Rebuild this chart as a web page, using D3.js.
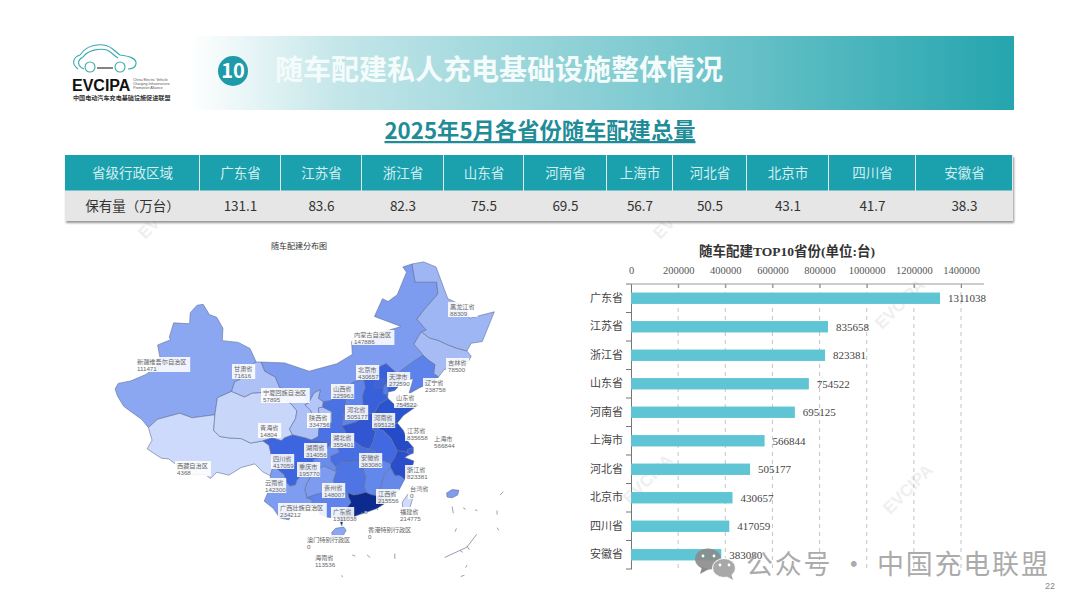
<!DOCTYPE html>
<html lang="zh">
<head>
<meta charset="UTF-8">
<title>随车配建私人充电基础设施整体情况</title>
<script src="https://d3js.org/d3.v7.min.js"></script>
<style>
  body { margin: 0; background: #fff; font-family: "Noto Sans CJK SC", "Noto Sans", sans-serif; }
  svg { display: block; }
  .serif { font-family: "Liberation Serif", "Noto Sans CJK SC", serif; }
</style>
</head>
<body>
<svg width="1080" height="608"></svg>
<script>
// table + bar chart data
const topProvinces = ["广东省", "江苏省", "浙江省", "山东省", "河南省", "上海市", "河北省", "北京市", "四川省", "安徽省"];
const topWan = ["131.1", "83.6", "82.3", "75.5", "69.5", "56.7", "50.5", "43.1", "41.7", "38.3"];
const topValues = [1311038, 835658, 823381, 754522, 695125, 566844, 505177, 430657, 417059, 383080];
const xTicks = [0, 200000, 400000, 600000, 800000, 1000000, 1200000, 1400000];

// map values
const mapNames = ["新疆维吾尔自治区", "西藏自治区", "青海省", "甘肃省", "内蒙古自治区", "宁夏回族自治区", "黑龙江省", "吉林省", "辽宁省", "河北省", "北京市", "天津市", "山西省", "陕西省", "山东省", "河南省", "江苏省", "上海市", "安徽省", "浙江省", "福建省", "江西省", "湖北省", "湖南省", "重庆市", "四川省", "贵州省", "云南省", "广西壮族自治区", "广东省", "海南省", "台湾省", "香港特别行政区", "澳门特别行政区"];
const mapValues = [111471, 4368, 14804, 71616, 147886, 57895, 88309, 78500, 238758, 505177, 430657, 272590, 225963, 334756, 754522, 695125, 835658, 566844, 383080, 823381, 214775, 215556, 355401, 314056, 195770, 417059, 148007, 142300, 234212, 1311038, 113536, 0, 0, 0];

// rough province outlines, lon/lat
const outlines = {
  "新疆维吾尔自治区": [[73.5,39.4],[74,40.1],[76,40.4],[78.5,41.2],[80.2,42.1],[80.3,43],[80.8,43.2],[80.4,44.7],[82.5,45.3],[82.3,45.6],[83,47.2],[85.6,47.1],[85.7,48.3],[86.8,49.1],[87.8,49.2],[88.8,48.1],[90,47.8],[91,46.6],[90.9,45.2],[93.5,45],[95.4,44.3],[96.4,42.7],[94.8,41.9],[93.8,40.6],[92.9,40.3],[92.4,39.1],[90.1,38.3],[89.7,36.1],[86,35.7],[84,36.3],[80.4,35.5],[78.9,34.4],[77.8,35.5],[75.9,36.6],[74.9,37.2],[73.9,38.5]],
  "西藏自治区": [[78.9,34.4],[79.5,32.7],[78.7,31.5],[81,30.2],[82.2,30.1],[84.2,28.8],[86,27.9],[88.1,27.9],[89,27.3],[90,28.2],[92,27.8],[94,28.9],[96.2,29.4],[97.4,28.3],[98.7,27.7],[99.2,29.2],[98.9,30.5],[98.5,32],[97.5,32.6],[95.5,32.3],[94,32.9],[92,33],[90.5,33.2],[89.5,34],[89.7,36.1],[86,35.7],[84,36.3],[80.4,35.5]],
  "青海省": [[89.7,36.1],[90.1,38.3],[92.4,39.1],[94.5,38.4],[95.8,38.9],[98,39],[99,38.5],[100.8,38.2],[102.1,37.5],[103,36.6],[102.8,35.6],[101.8,34.2],[102.3,33.4],[101,33],[100.5,32.6],[99,33],[97.5,32.6],[95.5,32.3],[94,32.9],[92,33],[90.5,33.2],[89.5,34]],
  "甘肃省": [[96.4,42.7],[97.2,42.7],[97.8,41.6],[99.5,40.9],[100.2,39.6],[102,39.2],[103.4,39.4],[104,38.9],[104.9,37.6],[104.3,37.4],[105.2,36.7],[105.6,36],[106.3,35.3],[106.6,35.8],[106.5,37],[107.2,37.1],[108.7,36.5],[108.7,35],[107.6,34.9],[106.6,34.4],[106.5,33.2],[105.4,32.7],[104.3,33],[102.3,33.4],[101.8,34.2],[102.8,35.6],[103,36.6],[102.1,37.5],[100.8,38.2],[99,38.5],[98,39],[95.8,38.9],[94.5,38.4],[92.4,39.1],[92.9,40.3],[93.8,40.6],[94.8,41.9]],
  "内蒙古自治区": [[97.2,42.7],[101,42.6],[105,41.6],[109.5,42.5],[112,43.6],[111.9,45.1],[114,44.9],[116.2,46],[119.9,46.8],[115.6,47.9],[116.9,49.8],[117.8,49.5],[119.3,50.2],[120.8,52.5],[120.2,53],[121.7,53.3],[122.2,51.5],[125.7,51.5],[125.9,50.3],[123.5,48.5],[122.5,47.6],[124,46.4],[123.2,46.2],[122,44.8],[123.1,43.9],[123.5,43.5],[122,42.8],[120.5,42],[119.3,41.3],[117.5,42.5],[116,42],[114.8,42.1],[113.8,40.6],[112,40.2],[111.2,39.4],[110.2,39.3],[108.5,37.9],[107.3,37.8],[106.5,38.2],[106.8,39.3],[105.8,38.9],[104.9,37.6],[104,38.9],[103.4,39.4],[102,39.2],[100.2,39.6],[99.5,40.9],[97.8,41.6]],
  "宁夏回族自治区": [[104.9,37.6],[105.8,38.9],[106.8,39.3],[106.5,38.2],[107.3,37.8],[107.2,37.1],[106.5,37],[106.6,35.8],[106.3,35.3],[105.6,36],[105.2,36.7],[104.3,37.4]],
  "黑龙江省": [[121.7,53.3],[123.6,53.5],[125.6,53],[127.5,49.8],[130.5,48.9],[131,47.7],[135.05,48.4],[133.1,45.1],[131.3,44.9],[130.6,44],[129,44.3],[127.5,44.7],[126,45.2],[124.5,45.5],[123.2,46.2],[124,46.4],[122.5,47.6],[123.5,48.5],[125.9,50.3],[125.7,51.5],[122.2,51.5]],
  "吉林省": [[123.2,46.2],[124.5,45.5],[126,45.2],[127.5,44.7],[129,44.3],[130.6,44],[131.3,43.4],[130.6,42.4],[129.8,42.9],[128,42],[126.9,41.8],[126,40.9],[125.2,41.3],[125.4,42.4],[124.4,42.9],[123.5,43.5],[123.1,43.9],[122,44.8]],
  "辽宁省": [[123.5,43.5],[124.4,42.9],[125.4,42.4],[125.2,41.3],[126,40.9],[124.4,40],[123,39.6],[121.2,38.8],[121.9,40.7],[120.9,40.5],[119.8,40],[119.3,41.3],[120.5,42],[122,42.8]],
  "河北省": [[119.3,41.3],[117.5,42.5],[116,42],[114.8,42.1],[113.8,40.6],[114.1,39.6],[113.6,38.5],[113.8,37],[114.1,36.3],[115.5,36.2],[116.4,37.5],[117.8,38.2],[117.6,39],[118.9,39.2],[119.8,40]],
  "北京市": [[115.5,39.6],[116,40.8],[117.3,40.6],[117,39.9],[116.5,39.5]],
  "天津市": [[117,39.6],[117.5,40.2],[117.8,39.5],[117.8,38.6],[117,38.8]],
  "山西省": [[113.8,40.6],[114.1,39.6],[113.6,38.5],[113.8,37],[114.1,36.3],[113.5,35.6],[112.5,35.1],[110.3,34.6],[110.6,36],[110.9,38],[111.2,39.4],[112,40.2]],
  "陕西省": [[111.2,39.4],[110.9,38],[110.6,36],[110.3,34.6],[111,33.8],[110.8,33.2],[110,33.2],[110,32.3],[109.6,31.7],[108.5,32.2],[107.3,32.5],[105.4,32.7],[106.5,33.2],[106.6,34.4],[107.6,34.9],[108.7,35],[108.7,36.5],[107.2,37.1],[107.3,37.8],[108.5,37.9],[110.2,39.3]],
  "山东省": [[115.5,36.2],[116.4,37.5],[117.8,38.2],[119,37.3],[120.8,37.8],[122.6,37.3],[120.3,36],[119.3,35],[118,34.6],[116.4,34.7],[116.1,34.6],[115.3,35.3]],
  "河南省": [[114.1,36.3],[115.5,36.2],[115.3,35.3],[116.1,34.6],[115.2,34.2],[115.8,33.9],[115.4,32.5],[114.8,31.5],[113.7,31.7],[112.5,32.4],[110.8,33.2],[111,33.8],[110.3,34.6],[112.5,35.1],[113.5,35.6]],
  "江苏省": [[116.1,34.6],[116.4,34.7],[118,34.6],[119.3,35],[120.3,34],[120.9,32.7],[121.9,31.7],[121,31.4],[120.9,31],[119.9,31.2],[119.3,31.2],[118.8,32],[118.3,32.9],[117,34],[116.4,34.1]],
  "上海市": [[120.9,31],[121,31.4],[121.9,31.7],[121.9,30.9],[121.3,30.7]],
  "安徽省": [[116.1,34.6],[116.4,34.1],[117,34],[118.3,32.9],[118.8,32],[119.3,31.2],[118.9,30.3],[118.2,29.4],[117,29.8],[116,30],[115.8,31.1],[114.8,31.5],[115.4,32.5],[115.8,33.9],[115.2,34.2]],
  "浙江省": [[119.9,31.2],[120.9,31],[121.3,30.7],[120.5,30.3],[122,29.8],[121.5,28.3],[120.5,27.2],[119.7,27.7],[118.9,27.7],[118.2,28.9],[118.2,29.4],[118.9,30.3],[119.3,31.2]],
  "福建省": [[118.2,28.9],[118.9,27.7],[119.7,27.7],[120.5,27.2],[119.5,25.5],[118.2,24.4],[117.2,23.6],[116.6,24.9],[115.9,24.8],[116.5,25.8],[117.2,27.9]],
  "江西省": [[116,30],[117,29.8],[118.2,29.4],[118.2,28.9],[117.2,27.9],[116.5,25.8],[115.9,24.8],[114.9,25],[114.2,25.3],[113.9,26.2],[114.2,27.5],[113.8,28.5],[114,29.3],[115.8,29.8]],
  "湖北省": [[109.6,31.7],[110,32.3],[110,33.2],[110.8,33.2],[112.5,32.4],[113.7,31.7],[114.8,31.5],[115.8,31.1],[116,30],[115.8,29.8],[114,29.3],[113.7,29.5],[112,29.8],[110.5,29.8],[109.3,29],[108.5,29.8],[108.5,30.5],[109.9,31]],
  "湖南省": [[110.5,29.8],[112,29.8],[113.7,29.5],[114,29.3],[113.8,28.5],[114.2,27.5],[113.9,26.2],[114.2,25.3],[113,25],[112.2,24.9],[111.3,25.2],[110,26],[109.4,26],[108.9,27],[109.4,28.3],[109.3,29]],
  "重庆市": [[108.5,32.2],[109.6,31.7],[109.9,31],[108.5,30.5],[108.5,29.8],[109.3,29],[109.4,28.3],[108.6,28.6],[107.4,29.1],[106.5,28.6],[105.8,29],[105.6,30],[106.5,30.3],[107.3,31]],
  "四川省": [[97.5,32.6],[99,33],[100.5,32.6],[101,33],[102.3,33.4],[104.3,33],[105.4,32.7],[107.3,32.5],[108.5,32.2],[107.3,31],[106.5,30.3],[105.6,30],[105.8,29],[106.5,28.6],[105.3,27.7],[104.3,28.6],[103,27],[102.8,26.4],[101.9,26.2],[101.4,26.6],[100.9,27.9],[100,28.5],[99.2,29.2],[98.9,30.5],[98.5,32]],
  "贵州省": [[105.3,27.7],[106.5,28.6],[107.4,29.1],[108.6,28.6],[109.4,28.3],[108.9,27],[109.4,26],[108.6,25.6],[107.7,25.3],[106.2,25],[104.6,24.5],[104.3,25.8],[104.6,26.6]],
  "云南省": [[99.2,29.2],[100,28.5],[100.9,27.9],[101.4,26.6],[101.9,26.2],[102.8,26.4],[103,27],[104.3,28.6],[105.3,27.7],[104.6,26.6],[104.3,25.8],[104.6,24.5],[105.5,24.2],[105.5,23.2],[104,22.8],[102.5,22.6],[101.7,21.2],[100.2,21.5],[99.2,22.9],[97.7,24],[98.6,25.9],[98.7,27.7]],
  "广西壮族自治区": [[105.5,24.2],[104.6,24.5],[106.2,25],[107.7,25.3],[108.6,25.6],[109.4,26],[110,26],[111.3,25.2],[111.4,24.6],[111.8,23.8],[110.9,22.7],[109.8,21.4],[109,21.5],[108,21.6],[106.7,22],[106.6,22.9],[105.5,23.2]],
  "广东省": [[111.3,25.2],[112.2,24.9],[113,25],[114.2,25.3],[114.9,25],[115.9,24.8],[116.6,24.9],[117.2,23.6],[116,22.9],[114.2,22.3],[113.5,22.1],[112,21.6],[110.5,21.2],[110.3,20.3],[109.8,21.4],[110.9,22.7],[111.8,23.8],[111.4,24.6]],
  "海南省": [[108.7,19.3],[109.3,19.9],[110.6,20.1],[111,19.6],[110.4,18.6],[109.5,18.2],[108.7,18.6]],
  "台湾省": [[121.5,25.3],[122,25],[121.4,23.2],[120.8,22],[120.2,23],[120.1,23.8],[121,25]],
  "香港特别行政区": [[114,22.5],[114.4,22.5],[114.4,22.2],[114,22.2]],
  "澳门特别行政区": [[113.5,22.25],[113.65,22.25],[113.65,22.1],[113.5,22.1]]
};

// specks in the sea, lon/lat
const islets = [
  [[136,24.9],[136.5,25.4]], [[128.2,23.2],[128.4,22.2]], [[130,23],[130.4,22.8]], [[131.9,22.7],[132.3,22.6]],
  [[135.5,22.6],[135.5,22]], [[128.9,19.9],[128.7,19.4]], [[135.5,20],[135.8,19.6]], [[132.2,19],[130.6,17],[127,15.4]],
  [[130.6,17.2],[131,16.6]], [[129.5,16.5],[129.9,16.2]], [[130.6,14.2],[130.4,13.8]], [[130.2,12.6],[129.6,12.4]],
  [[118.9,16],[118.9,15.2]], [[116,22.8],[116.2,22.7]], [[112,15.8],[112.5,15.6]], [[114.4,15.8],[114.9,15.4]], [[110.3,12.6],[110.4,12.3]]
];
const isletBlob = [[127.3,25.2],[128.2,25.7],[129.3,25.6],[129.1,24.9],[128.2,24.5],[127.4,24.6]];

// where each label box starts on the page
const labelPos = {
  "新疆维吾尔自治区": [135,357], "甘肃省": [232,364], "宁夏回族自治区": [261,388], "内蒙古自治区": [352,330], "黑龙江省": [448,302],
  "吉林省": [446,358], "辽宁省": [423,378], "北京市": [356,365], "天津市": [387,372], "山西省": [331,384], "山东省": [394,393],
  "河北省": [345,405], "河南省": [372,413], "陕西省": [307,413], "江苏省": [405,426], "上海市": [432,434], "安徽省": [359,453],
  "浙江省": [405,465], "台湾省": [408,484], "江西省": [376,489], "福建省": [398,507], "香港特别行政区": [366,525], "青海省": [258,423],
  "四川省": [271,454], "湖南省": [304,443], "湖北省": [331,433], "重庆市": [297,462], "云南省": [263,478], "贵州省": [322,483],
  "广西壮族自治区": [278,503], "广东省": [331,507], "澳门特别行政区": [305,535], "海南省": [313,553], "西藏自治区": [175,461]
};

const svg = d3.select("svg");
const defs = svg.append("defs");

const bandGrad = defs.append("linearGradient").attr("id", "band");
bandGrad.append("stop").attr("offset", "0%").attr("stop-color", "#ffffff");
bandGrad.append("stop").attr("offset", "18%").attr("stop-color", "#c4e6e9");
bandGrad.append("stop").attr("offset", "55%").attr("stop-color", "#7fcbd1");
bandGrad.append("stop").attr("offset", "100%").attr("stop-color", "#25a5ae");

const soften = defs.append("filter").attr("id", "soft");
soften.append("feGaussianBlur").attr("stdDeviation", 0.35);

const shadow = defs.append("filter").attr("id", "shadow").attr("x", "-2%").attr("y", "-5%").attr("width", "104%").attr("height", "115%");
shadow.append("feDropShadow").attr("dx", 1).attr("dy", 2).attr("stdDeviation", 1.2).attr("flood-color", "#666").attr("flood-opacity", 0.7);

// header band
svg.append("rect").attr("x", 190).attr("y", 36).attr("width", 824).attr("height", 74).attr("fill", "url(#band)");
svg.append("circle").attr("cx", 233).attr("cy", 71).attr("r", 15).attr("fill", "#1f9aa8");
svg.append("text").attr("x", 233).attr("y", 78).attr("text-anchor", "middle")
  .attr("font-size", 20).attr("font-weight", "bold").attr("fill", "#fff").text("10");
svg.append("text").attr("x", 275).attr("y", 80).attr("font-size", 28).attr("font-weight", "bold")
  .attr("fill", "#f4fbfb").text("随车配建私人充电基础设施整体情况");

// logo
const logo = svg.append("g").attr("fill", "none").attr("stroke", "#3aa9ae").attr("stroke-width", 1.1);
logo.append("path").attr("d", "M78,69 C71,64 73,57 80,55 C86,46 96,44 104,45 C112,46 115,52 120,55 C128,56 137,58 136,64 C135,68 131,69 128,69");
logo.append("path").attr("d", "M84,69 C77,66 77,60 83,57 C88,50 100,48 107,50 C112,52 114,56 118,58");
logo.append("circle").attr("cx", 90).attr("cy", 67).attr("r", 5);
logo.append("circle").attr("cx", 120).attr("cy", 67).attr("r", 5);
logo.append("path").attr("d", "M97,68 H113").attr("stroke", "#222");
svg.append("text").attr("x", 72).attr("y", 91).attr("font-family", "Liberation Sans").attr("font-weight", "bold")
  .attr("font-size", 16).attr("fill", "#111").text("EVCIPA");
["China Electric Vehicle", "Charging Infrastructure", "Promotion Alliance"].forEach((t, i) => {
  svg.append("text").attr("x", 133).attr("y", 81 + i * 4).attr("font-size", 3.6).attr("fill", "#555")
    .attr("font-family", "Liberation Sans").text(t);
});
svg.append("text").attr("x", 73).attr("y", 100).attr("font-size", 6.1).attr("font-weight", "bold").attr("fill", "#333")
  .text("中国电动汽车充电基础设施促进联盟");

// faint watermarks
[[660, 240], [882, 330], [890, 515], [630, 505], [145, 240]].forEach(([x, y]) => {
  svg.append("text").attr("transform", `translate(${x},${y}) rotate(-45)`).attr("font-size", 17)
    .attr("font-family", "Liberation Sans").attr("font-weight", "bold").attr("fill", "#eef0f0").text("EVCIPA");
});

// sub title
svg.append("text").attr("x", 540).attr("y", 139).attr("text-anchor", "middle").attr("font-size", 22.3).attr("font-weight", "bold")
  .attr("fill", "#1f8c98").attr("text-decoration", "underline").text("2025年5月各省份随车配建总量");

// table
const colEdges = [65, 200, 281, 362, 444, 524, 607, 673, 747, 829, 916, 1013];
const rowEdges = [155, 191.5, 221];
const headRow = ["省级行政区域", ...topProvinces];
const bodyRow = ["保有量（万台）", ...topWan];

const table = svg.append("g");
table.append("rect").attr("x", colEdges[0]).attr("y", rowEdges[0]).attr("width", colEdges[11] - colEdges[0])
  .attr("height", rowEdges[2] - rowEdges[0]).attr("fill", "#e6e6e6").attr("filter", "url(#shadow)");

[headRow, bodyRow].forEach((row, r) => {
  const cell = table.append("g").selectAll("g").data(row).join("g");
  cell.append("rect")
    .attr("x", (d, i) => colEdges[i])
    .attr("y", rowEdges[r])
    .attr("width", (d, i) => colEdges[i + 1] - colEdges[i] - 1)
    .attr("height", rowEdges[r + 1] - rowEdges[r] - 1)
    .attr("fill", r ? "#e6e6e6" : "#1ba0ae");
  cell.append("text")
    .attr("x", (d, i) => (colEdges[i] + colEdges[i + 1]) / 2)
    .attr("y", (rowEdges[r] + rowEdges[r + 1]) / 2 + 5)
    .attr("text-anchor", "middle")
    .attr("font-size", 13.5)
    .attr("fill", r ? "#333" : "#d5eef0")
    .text(d => d);
});

// map
svg.append("text").attr("x", 299).attr("y", 249).attr("text-anchor", "middle").attr("font-size", 8).attr("fill", "#333").text("随车配建分布图");

const projection = d3.geoMercator().center([104, 36]).scale(353).translate([303, 415.5]);
const color = d3.scaleLinear()
  .domain([0, 20000, 70000, 110000, 150000, 230000, 400000, 800000, 1311038])
  .range(["#cfdcfb", "#c5d4fa", "#aec2f6", "#8ca8f2", "#7c9aef", "#5f84ea", "#3f66e0", "#2a4fcc", "#0b2a8e"]);
const ring = d3.line().curve(d3.curveLinearClosed).x(d => projection(d)[0]).y(d => projection(d)[1]);

const mapG = svg.append("g").attr("filter", "url(#soft)");
mapG.selectAll("path.province").data(mapNames).join("path")
  .attr("class", "province")
  .attr("d", d => ring(outlines[d]))
  .attr("fill", (d, i) => color(mapValues[i]))
  .attr("stroke", "#5f6f94")
  .attr("stroke-width", 0.6)
  .attr("stroke-linejoin", "round");

const openLine = d3.line().x(d => projection(d)[0]).y(d => projection(d)[1]);
mapG.selectAll("path.islet").data(islets).join("path")
  .attr("class", "islet")
  .attr("d", openLine)
  .attr("fill", "none")
  .attr("stroke", "#7d8699")
  .attr("stroke-width", 0.8);
mapG.append("path").attr("d", ring(isletBlob)).attr("fill", "#7f9cee").attr("stroke", "#5f6f94").attr("stroke-width", 0.6);

const labels = svg.append("g").selectAll("g").data(mapNames).join("g")
  .attr("transform", d => `translate(${labelPos[d][0]},${labelPos[d][1]})`);
labels.append("rect")
  .attr("width", d => d.length * 6.4 + 4)
  .attr("height", 15)
  .attr("fill", "#fff")
  .attr("fill-opacity", 0.88);
labels.append("text").attr("x", 2).attr("y", 6.5).attr("font-size", 6.2).attr("fill", "#666").text(d => d);
labels.append("text").attr("x", 2).attr("y", 13.5).attr("font-size", 6.2).attr("fill", "#666")
  .attr("font-family", "Liberation Sans").text((d, i) => mapValues[i]);

// bar chart
const x = d3.scaleLinear().domain([0, 1400000]).range([631, 961]);
const y = d3.scaleBand().domain(topProvinces).range([284, 569]).paddingInner(0.6).paddingOuter(0.3);
const bandLine = d3.scaleBand().domain(topProvinces).range([284, 569]);

const chart = svg.append("g").attr("class", "serif");
chart.append("text").attr("x", 787).attr("y", 256).attr("text-anchor", "middle").attr("font-size", 13.5)
  .attr("font-weight", "bold").attr("fill", "#333").text("随车配建TOP10省份(单位:台)");

chart.selectAll("line.grid").data(xTicks.slice(1)).join("line")
  .attr("class", "grid")
  .attr("x1", d => x(d)).attr("x2", d => x(d))
  .attr("y1", 284).attr("y2", 569)
  .attr("stroke", "#b4b4b4").attr("stroke-width", 0.8).attr("stroke-dasharray", "4 4");

const xAxis = chart.append("g").attr("transform", "translate(0,284)")
  .call(d3.axisTop(x).tickValues(xTicks).tickFormat(d3.format("d")).tickSize(-4).tickPadding(10));
xAxis.select(".domain").remove();
xAxis.append("line").attr("x1", 631).attr("x2", 984).attr("stroke", "#999");
xAxis.selectAll(".tick line").attr("stroke", "#888");
xAxis.selectAll(".tick text").attr("font-size", 10.5).attr("fill", "#555").attr("font-family", "Liberation Serif");

const yAxis = chart.append("g").attr("transform", "translate(631,0)")
  .call(d3.axisLeft(bandLine).tickSize(0).tickPadding(8));
yAxis.select(".domain").attr("stroke", "#777");
yAxis.selectAll(".tick text").attr("font-size", 11).attr("fill", "#444").attr("font-family", "Liberation Serif, Noto Sans CJK SC");
chart.selectAll("line.ytick").data(d3.range(11)).join("line")
  .attr("class", "ytick")
  .attr("x1", 626).attr("x2", 631)
  .attr("y1", d => 284 + d * bandLine.step()).attr("y2", d => 284 + d * bandLine.step())
  .attr("stroke", "#777");

chart.selectAll("rect.bar").data(topValues).join("rect")
  .attr("class", "bar")
  .attr("x", x(0))
  .attr("y", (d, i) => y(topProvinces[i]))
  .attr("width", d => x(d) - x(0))
  .attr("height", y.bandwidth())
  .attr("fill", "#5fc5d4");

chart.selectAll("text.val").data(topValues).join("text")
  .attr("class", "val")
  .attr("x", d => x(d) + 8)
  .attr("y", (d, i) => y(topProvinces[i]) + y.bandwidth() / 2 + 4)
  .attr("font-size", 11).attr("fill", "#444")
  .text(d => d);

// wechat mark + footer
const wx = svg.append("g");
wx.append("ellipse").attr("cx", 708).attr("cy", 559).attr("rx", 13).attr("ry", 10.5).attr("fill", "#8b8b8b").attr("fill-opacity", 0.9);
wx.append("path").attr("d", "M702,567 L700,574 L709,569 Z").attr("fill", "#8b8b8b");
wx.append("ellipse").attr("cx", 724).attr("cy", 568).attr("rx", 11.5).attr("ry", 9.5).attr("fill", "#a8a8a8").attr("stroke", "#fff").attr("stroke-width", 1);
wx.append("path").attr("d", "M726,576 L733,580 L731,573 Z").attr("fill", "#a8a8a8");
[[703, 556], [714, 556], [720, 565], [729, 565]].forEach(([cx, cy]) => {
  wx.append("circle").attr("cx", cx).attr("cy", cy).attr("r", 1.4).attr("fill", "#fff");
});
svg.append("text").attr("x", 746).attr("y", 574).attr("font-size", 27).attr("letter-spacing", 1.8).attr("fill", "#a0a0a0").attr("fill-opacity", 0.9)
  .text("公众号 · 中国充电联盟");
svg.append("text").attr("x", 1050).attr("y", 589).attr("text-anchor", "middle").attr("font-size", 9).attr("fill", "#888")
  .attr("font-family", "Liberation Sans").text("22");
</script>
</body>
</html>
